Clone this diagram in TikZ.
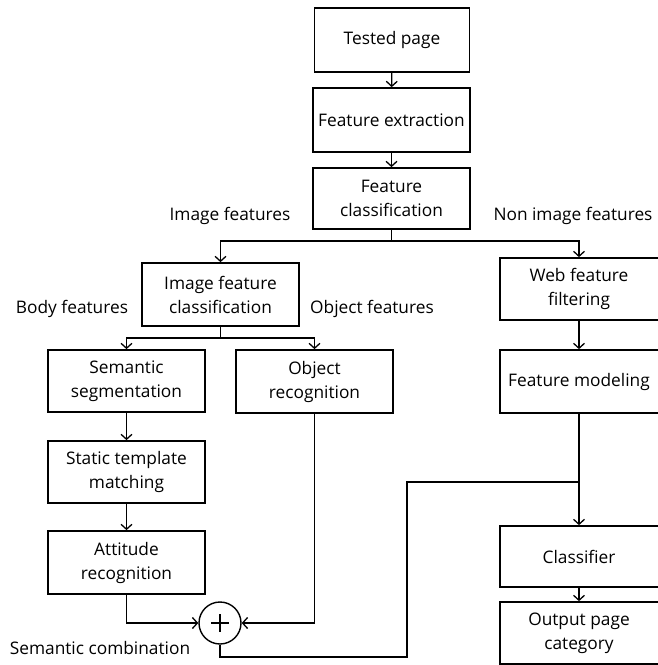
\documentclass[tikz,border=0pt]{standalone}
\usepackage{fontspec}
\setmainfont{Open Sans}
\usetikzlibrary{arrows.meta}
\begin{document}
\begin{tikzpicture}[x=1pt,y=-1pt,
  every node/.style={font=\fontsize{17.3}{24}\selectfont},
  box/.style={draw, line width=1.7pt, align=center, inner sep=0pt,
    minimum width=157pt, minimum height=63pt},
  rbox/.style={box, minimum width=162pt},
  lbl/.style={inner sep=0pt},
  flow/.style={line width=1.4pt},
  arr/.style={flow, -{Straight Barb[length=5pt,width=11pt,line width=1.3pt]}}
]
\useasboundingbox (0,0) rectangle (657,665);

% process boxes
\node[box, minimum width=155pt, minimum height=64pt] (tested) at (392,40) {Tested page};
\node[box, minimum height=64pt] (extract) at (391.5,120) {Feature extraction};
\node[box, minimum height=61pt] (fclass) at (391.5,198.5) {Feature\\classification};
\node[box] (imgcls) at (220.5,294.5) {Image feature\\classification};
\node[rbox, minimum height=62pt] (webfilt) at (581,289) {\hspace*{-4pt}Web feature\\\hspace*{-4pt}filtering};
\node[box, minimum height=62pt] (semseg) at (126.5,381) {Semantic\\segmentation};
\node[box] (objrec) at (314.5,381.5) {Object\\recognition};
\node[rbox] (featmod) at (581,381.5) {\hspace*{-4pt}Feature modeling};
\node[box, minimum height=62pt] (static) at (126.5,472) {Static template\\matching};
\node[box] (attitude) at (126.5,562.5) {Attitude\\recognition};
\node[rbox, minimum height=61pt] (classifier) at (581,556.5) {\hspace*{-4pt}Classifier};
\node[rbox, minimum height=62pt] (output) at (581,633) {\hspace*{-4pt}Output page\\\hspace*{-4pt}category};

% combination operator
\node[draw, circle, line width=1.4pt, minimum size=42pt, inner sep=0pt] (plus) at (220,623) {};
\draw[line width=1.1pt] (plus.center) ++(-9,0) -- ++(18,0) (plus.center) ++(0,-9) -- ++(0,18);

% branch labels
\node[lbl] (limg) at (230,216) {Image features};
\node[lbl] (lnon) at (573,216) {Non image features};
\node[lbl] (lbody) at (72,309) {Body features};
\node[lbl] (lobj) at (372,309) {Object features};
\node[lbl] (lsem) at (100,648) {Semantic combination};

% junction points
\coordinate (split1) at (391.5,241);
\coordinate (split2) at (220.5,338);
\coordinate (turn) at (407,657);
\coordinate (join) at (579,482);
\coordinate (rin) at (579,413);
\coordinate (rout) at (579,525);

% connectors
\draw[arr] (tested) -- (extract);
\draw[arr] (extract) -- (fclass);
\draw[flow] (fclass) -- (split1);
\draw[arr] (split1) -| ([xshift=-2pt]webfilt.north);
\draw[arr] (split1) -| (imgcls);
\draw[flow] (imgcls) -- (split2);
\draw[arr] (split2) -| (semseg);
\draw[arr] (split2) -| (objrec);
\draw[arr] (semseg) -- (static);
\draw[arr] (static) -- (attitude);
\draw[arr] (attitude.south) |- (plus.west);
\draw[arr] (objrec.south) |- (plus.east);
\draw[arr] ([xshift=-2pt]webfilt.south) -- ([xshift=-2pt]featmod.north);
\draw[arr] ([xshift=-2pt]featmod.south) -- ([xshift=-2pt]classifier.north);
\draw[flow] (plus.south) |- (turn) |- (join);
\draw[arr] ([xshift=-2pt]classifier.south) -- ([xshift=-2pt]output.north);
\end{tikzpicture}
\end{document}
